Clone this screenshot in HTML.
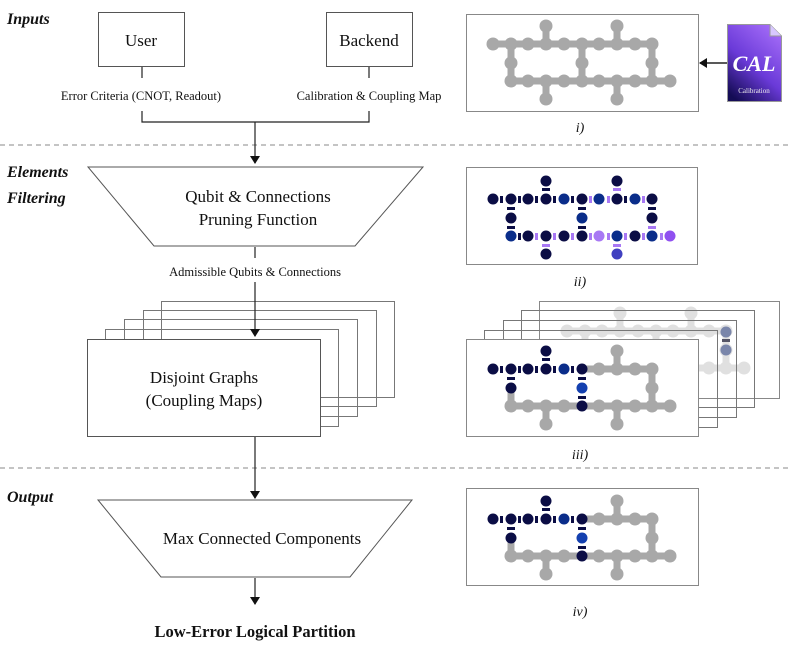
<!DOCTYPE html>
<html><head><meta charset="utf-8"><style>
html,body{margin:0;padding:0;background:#fff}
svg{display:block;font-family:"Liberation Serif",serif}
</style></head><body>
<svg width="789" height="654" viewBox="0 0 789 654" xmlns="http://www.w3.org/2000/svg">
<defs>
<marker id="ar" markerWidth="8" markerHeight="10" refX="7" refY="5" orient="auto" markerUnits="userSpaceOnUse">
<path d="M0,0 L8,5 L0,10 z" fill="#111"/></marker>
<linearGradient id="cal" x1="0.8" y1="0" x2="0.2" y2="1">
<stop offset="0" stop-color="#a46cf8"/><stop offset="0.55" stop-color="#6a3ad8"/><stop offset="1" stop-color="#140c55"/></linearGradient>
<g id="grid" stroke="#a8a8a8" stroke-width="7" fill="#a8a8a8">
<path d="M27,30H186 M45,67H204 M45,30V67 M116,30V67 M186,30V67 M80,12V30 M151,12V30 M80,67V85 M151,67V85" fill="none"/>
<g stroke="none">
<circle cx="27" cy="30" r="6.5"/><circle cx="45" cy="30" r="6.5"/><circle cx="62" cy="30" r="6.5"/><circle cx="80" cy="30" r="6.5"/><circle cx="98" cy="30" r="6.5"/><circle cx="116" cy="30" r="6.5"/><circle cx="133" cy="30" r="6.5"/><circle cx="151" cy="30" r="6.5"/><circle cx="169" cy="30" r="6.5"/><circle cx="186" cy="30" r="6.5"/>
<circle cx="45" cy="67" r="6.5"/><circle cx="62" cy="67" r="6.5"/><circle cx="80" cy="67" r="6.5"/><circle cx="98" cy="67" r="6.5"/><circle cx="116" cy="67" r="6.5"/><circle cx="133" cy="67" r="6.5"/><circle cx="151" cy="67" r="6.5"/><circle cx="169" cy="67" r="6.5"/><circle cx="186" cy="67" r="6.5"/><circle cx="204" cy="67" r="6.5"/>
<circle cx="45" cy="49" r="6.5"/><circle cx="116" cy="49" r="6.5"/><circle cx="186" cy="49" r="6.5"/>
<circle cx="80" cy="12" r="6.5"/><circle cx="151" cy="12" r="6.5"/><circle cx="80" cy="85" r="6.5"/><circle cx="151" cy="85" r="6.5"/>
</g></g>
<g id="part">
<g stroke="#a8a8a8" stroke-width="7" fill="none">
<path d="M116,30H186 M45,67H204 M45,49V67 M186,30V67 M151,12V30 M80,67V85 M151,67V85"/></g>
<g fill="#a8a8a8">
<circle cx="133" cy="30" r="6.5"/><circle cx="151" cy="30" r="6.5"/><circle cx="169" cy="30" r="6.5"/><circle cx="186" cy="30" r="6.5"/>
<circle cx="45" cy="67" r="6.5"/><circle cx="62" cy="67" r="6.5"/><circle cx="80" cy="67" r="6.5"/><circle cx="98" cy="67" r="6.5"/><circle cx="133" cy="67" r="6.5"/><circle cx="151" cy="67" r="6.5"/><circle cx="169" cy="67" r="6.5"/><circle cx="186" cy="67" r="6.5"/><circle cx="204" cy="67" r="6.5"/>
<circle cx="186" cy="49" r="6.5"/><circle cx="151" cy="12" r="6.5"/><circle cx="80" cy="85" r="6.5"/><circle cx="151" cy="85" r="6.5"/></g>
<g fill="#0b0d45">
<rect x="34" y="27" width="3" height="7"/><rect x="52" y="27" width="3" height="7"/><rect x="69" y="27" width="3" height="7"/><rect x="87" y="27" width="3" height="7"/><rect x="105" y="27" width="3" height="7"/>
<rect x="76" y="19" width="8" height="3"/><rect x="41" y="38" width="8" height="3"/><rect x="112" y="38" width="8" height="3"/><rect x="112" y="57" width="8" height="3"/>
<circle cx="27" cy="30" r="5.5"/><circle cx="45" cy="30" r="5.5"/><circle cx="62" cy="30" r="5.5"/><circle cx="80" cy="30" r="5.5"/><circle cx="116" cy="30" r="5.5"/>
<circle cx="80" cy="12" r="5.5"/><circle cx="45" cy="49" r="5.5"/><circle cx="116" cy="67" r="5.5"/></g>
<circle cx="98" cy="30" r="5.5" fill="#0a2d8a"/><circle cx="116" cy="49" r="5.5" fill="#1440b0"/>
</g>
</defs>

<!-- dashed separators -->
<line x1="0" y1="145" x2="789" y2="145" stroke="#888" stroke-dasharray="5,4"/>
<line x1="0" y1="468" x2="789" y2="468" stroke="#888" stroke-dasharray="5,4"/>

<!-- section labels -->
<g font-weight="bold" font-style="italic" font-size="16" fill="#111">
<text x="7" y="24">Inputs</text><text x="7" y="177">Elements</text><text x="7" y="203">Filtering</text><text x="7" y="502">Output</text></g>

<!-- inputs -->
<rect x="98.5" y="12.5" width="86" height="54" fill="#fff" stroke="#555"/>
<rect x="326.5" y="12.5" width="86" height="54" fill="#fff" stroke="#555"/>
<g font-size="17" text-anchor="middle" fill="#111">
<text x="141" y="46">User</text><text x="369" y="46">Backend</text></g>
<g stroke="#222" fill="none" stroke-width="1.2">
<path d="M142,67V78 M369,67V78 M142,111V122H369V111"/>
<path d="M255,122V163" marker-end="url(#ar)"/></g>
<g font-size="12.5" text-anchor="middle" fill="#111">
<text x="141" y="100">Error Criteria  (CNOT, Readout)</text>
<text x="369" y="100">Calibration &amp; Coupling Map</text>
<text x="255" y="276">Admissible Qubits &amp; Connections</text></g>

<!-- trapezoid 1 -->
<polygon points="88,167 423,167 355,246 154,246" fill="#fff" stroke="#555"/>
<g font-size="17" text-anchor="middle" fill="#111">
<text x="258" y="202">Qubit &amp; Connections</text><text x="258" y="225">Pruning Function</text></g>
<line x1="255" y1="247" x2="255" y2="258" stroke="#222" stroke-width="1.2"/>

<!-- stack -->
<g fill="none" stroke="#777">
<rect x="161.5" y="301.5" width="233" height="96"/>
<rect x="143.5" y="310.5" width="233" height="96"/>
<rect x="124.5" y="319.5" width="233" height="97"/>
<rect x="105.5" y="329.5" width="233" height="97"/></g>
<line x1="255" y1="282" x2="255" y2="336" stroke="#222" stroke-width="1.2" marker-end="url(#ar)"/>
<rect x="87.5" y="339.5" width="233" height="97" fill="#fff" stroke="#555"/>
<g font-size="17" text-anchor="middle" fill="#111">
<text x="204" y="383">Disjoint Graphs</text><text x="204" y="406">(Coupling Maps)</text></g>
<line x1="255" y1="437" x2="255" y2="498" stroke="#222" stroke-width="1.2" marker-end="url(#ar)"/>

<!-- trapezoid 2 -->
<polygon points="98,500 412,500 350,577 161,577" fill="#fff" stroke="#555"/>
<text x="262" y="544" font-size="17" text-anchor="middle" fill="#111">Max Connected Components</text>
<line x1="255" y1="578" x2="255" y2="604" stroke="#222" stroke-width="1.2" marker-end="url(#ar)"/>
<text x="255" y="637" font-size="16.5" font-weight="bold" text-anchor="middle" fill="#111">Low-Error Logical Partition</text>

<!-- panel i -->
<rect x="466.5" y="14.5" width="232" height="97" fill="#fff" stroke="#888"/>
<use href="#grid" transform="translate(466,14)"/>
<path d="M727.5,24.5H770L781.5,36V101.5H727.5Z" fill="url(#cal)" stroke="#999"/>
<path d="M770,24.5V36H781.5" fill="#d8c8ff" stroke="#999"/>
<text x="754" y="71" font-size="22" font-weight="bold" font-style="italic" fill="#fff" text-anchor="middle">CAL</text>
<text x="754" y="93" font-size="7" fill="#eee" text-anchor="middle">Calibration</text>
<line x1="727" y1="63" x2="700" y2="63" stroke="#222" stroke-width="1.5" marker-end="url(#ar)"/>
<text x="580" y="132" font-size="14" font-style="italic" text-anchor="middle" fill="#111">i)</text>

<!-- panel ii -->
<rect x="466.5" y="167.5" width="231" height="97" fill="#fff" stroke="#888"/>
<g transform="translate(466,169)">
<g fill="#0b0d45">
<rect x="34" y="27" width="3" height="7"/><rect x="52" y="27" width="3" height="7"/><rect x="69" y="27" width="3" height="7"/><rect x="87" y="27" width="3" height="7"/><rect x="105" y="27" width="3" height="7"/><rect x="158" y="27" width="3" height="7"/>
<rect x="52" y="64" width="3" height="7"/>
<rect x="76" y="19" width="8" height="3"/><rect x="41" y="38" width="8" height="3"/><rect x="41" y="57" width="8" height="3"/><rect x="112" y="38" width="8" height="3"/><rect x="112" y="57" width="8" height="3"/><rect x="182" y="38" width="8" height="3"/></g>
<g fill="#a878f4">
<rect x="123" y="27" width="3" height="7"/><rect x="141" y="27" width="3" height="7"/><rect x="176" y="27" width="3" height="7"/>
<rect x="69" y="64" width="3" height="7"/><rect x="87" y="64" width="3" height="7"/><rect x="105" y="64" width="3" height="7"/><rect x="123" y="64" width="3" height="7"/><rect x="141" y="64" width="3" height="7"/><rect x="158" y="64" width="3" height="7"/><rect x="176" y="64" width="3" height="7"/><rect x="194" y="64" width="3" height="7"/>
<rect x="147" y="19" width="8" height="3"/><rect x="182" y="57" width="8" height="3"/><rect x="76" y="75" width="8" height="3"/><rect x="147" y="75" width="8" height="3"/></g>
<g fill="#0b0d45">
<circle cx="27" cy="30" r="5.5"/><circle cx="45" cy="30" r="5.5"/><circle cx="62" cy="30" r="5.5"/><circle cx="80" cy="30" r="5.5"/><circle cx="116" cy="30" r="5.5"/><circle cx="151" cy="30" r="5.5"/><circle cx="186" cy="30" r="5.5"/>
<circle cx="45" cy="49" r="5.5"/><circle cx="186" cy="49" r="5.5"/>
<circle cx="62" cy="67" r="5.5"/><circle cx="80" cy="67" r="5.5"/><circle cx="98" cy="67" r="5.5"/><circle cx="116" cy="67" r="5.5"/><circle cx="169" cy="67" r="5.5"/>
<circle cx="80" cy="12" r="5.5"/><circle cx="151" cy="12" r="5.5"/><circle cx="80" cy="85" r="5.5"/></g>
<g fill="#0a2d8a">
<circle cx="98" cy="30" r="5.5"/><circle cx="133" cy="30" r="5.5"/><circle cx="169" cy="30" r="5.5"/><circle cx="116" cy="49" r="5.5"/><circle cx="45" cy="67" r="5.5"/><circle cx="151" cy="67" r="5.5"/><circle cx="186" cy="67" r="5.5"/></g>
<circle cx="133" cy="67" r="5.5" fill="#a878f4"/><circle cx="204" cy="67" r="5.5" fill="#9050f0"/><circle cx="151" cy="85" r="5.5" fill="#4040c0"/>
</g>
<text x="580" y="286" font-size="14" font-style="italic" text-anchor="middle" fill="#111">ii)</text>

<!-- panel iii -->
<rect x="539.5" y="301.5" width="240" height="97" fill="#fff" stroke="#888"/>
<g opacity="0.35"><use href="#grid" transform="translate(540,301)"/></g>
<circle cx="726" cy="332" r="5.5" fill="#7a86aa"/><circle cx="726" cy="350" r="5.5" fill="#7a86aa"/><rect x="722" y="339" width="8" height="3" fill="#556"/>
<g fill="none" stroke="#777">
<rect x="521.5" y="310.5" width="233" height="97"/>
<rect x="503.5" y="320.5" width="233" height="97"/>
<rect x="484.5" y="330.5" width="233" height="97"/></g>
<rect x="466.5" y="339.5" width="232" height="97" fill="#fff" stroke="#888"/>
<use href="#part" transform="translate(466,339)"/>
<text x="580" y="459" font-size="14" font-style="italic" text-anchor="middle" fill="#111">iii)</text>

<!-- panel iv -->
<rect x="466.5" y="488.5" width="232" height="97" fill="#fff" stroke="#888"/>
<use href="#part" transform="translate(466,489)"/>
<text x="580" y="616" font-size="14" font-style="italic" text-anchor="middle" fill="#111">iv)</text>
</svg>
</body></html>
